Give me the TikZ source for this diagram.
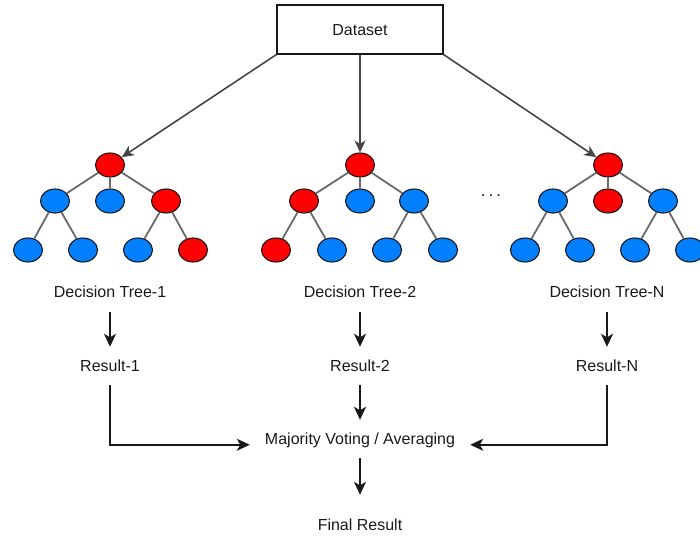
\documentclass[tikz,border=0pt]{standalone}
\usepackage{fontspec}
\setmainfont{Liberation Sans}
\usetikzlibrary{shapes.geometric,arrows.meta}

\definecolor{nodered}{RGB}{255,0,0}
\definecolor{nodeblue}{RGB}{0,127,255}
\definecolor{edgegray}{RGB}{105,105,105}
\definecolor{inkdark}{RGB}{25,25,25}
\definecolor{feedgray}{RGB}{70,70,70}

\tikzset{
  tnode/.style={ellipse, draw=inkdark, line width=1.1pt, minimum width=29pt, minimum height=24pt, inner sep=0pt},
  rn/.style={tnode, fill=nodered},
  bn/.style={tnode, fill=nodeblue},
  tedge/.style={draw=edgegray, line width=1.8pt},
  lbl/.style={font=\fontsize{16}{19}\selectfont, text=inkdark, text height=11.5pt, text depth=0pt, inner sep=0pt, minimum height=38pt},
  arr/.style={draw=inkdark, line width=1.7pt, -{Stealth[length=13pt,width=12pt,inset=3.5pt]}},
  feed/.style={draw=feedgray, line width=1.6pt, -{Stealth[length=12pt,width=11pt,inset=3.5pt]}},
}

% edges of one tree: root to its three children, outer children to their leaves
\newcommand\treeedges[1]{%
  \draw[tedge] (#1r) -- (#1a);
  \draw[tedge] (#1r) -- (#1b);
  \draw[tedge] (#1r) -- (#1c);
  \draw[tedge] (#1a) -- (#1aa);
  \draw[tedge] (#1a) -- (#1ab);
  \draw[tedge] (#1c) -- (#1ca);
  \draw[tedge] (#1c) -- (#1cb);
}

\begin{document}
\begin{tikzpicture}[x=1pt, y=-1pt]
\useasboundingbox (0,0) rectangle (700,535);

% source box
\node[draw=inkdark, line width=1.1pt, minimum width=166pt, minimum height=49pt, inner sep=0pt,
      font=\fontsize{16}{19}\selectfont, text=inkdark, text height=11.5pt, text depth=0pt]
      (ds) at (360,29.5) {Dataset};

% tree 1
\begin{scope}[shift={(110,165)}]
  \node[rn] (t1r)  at (0,0) {};
  \node[bn] (t1a)  at (-55,36) {};
  \node[bn] (t1b)  at (0,36) {};
  \node[rn] (t1c)  at (56,36) {};
  \node[bn] (t1aa) at (-82,85) {};
  \node[bn] (t1ab) at (-27,85) {};
  \node[bn] (t1ca) at (28,85) {};
  \node[rn] (t1cb) at (83,85) {};
\end{scope}
\treeedges{t1}

% tree 2
\begin{scope}[shift={(360,165)}]
  \node[rn] (t2r)  at (0,0) {};
  \node[rn] (t2a)  at (-56,36) {};
  \node[bn] (t2b)  at (0,36) {};
  \node[bn] (t2c)  at (54,36) {};
  \node[rn] (t2aa) at (-84,85) {};
  \node[bn] (t2ab) at (-28,85) {};
  \node[bn] (t2ca) at (27,85) {};
  \node[bn] (t2cb) at (83,85) {};
\end{scope}
\treeedges{t2}

% tree N
\begin{scope}[shift={(608,165)}]
  \node[rn] (t3r)  at (0,0) {};
  \node[bn] (t3a)  at (-55,36) {};
  \node[rn] (t3b)  at (0,36) {};
  \node[bn] (t3c)  at (55,36) {};
  \node[bn] (t3aa) at (-83,85) {};
  \node[bn] (t3ab) at (-28,85) {};
  \node[bn] (t3ca) at (27,85) {};
  \node[bn] (t3cb) at (82,85) {};
\end{scope}
\treeedges{t3}

% ellipsis between the trees
\node[font=\fontsize{17}{19}\selectfont, text=inkdark, text height=11.5pt, text depth=0pt, inner sep=0pt]
  (dots) at (491,191) {.\hspace{3pt}.\hspace{3pt}.};

% data fed to every tree
\draw[feed] (ds.south west) -- (t1r);
\draw[feed] (ds.south) -- (t2r);
\draw[feed] (ds.south east) -- (t3r);

% tree captions and results
\node[lbl, minimum height=40pt] (dt1) at (110,292) {Decision Tree-1};
\node[lbl, minimum height=40pt] (dt2) at (360,292) {Decision Tree-2};
\node[lbl, minimum height=40pt] (dt3) at (607,292) {Decision Tree-N};

\node[lbl] (r1) at (110,366) {Result-1};
\node[lbl] (r2) at (360,366) {Result-2};
\node[lbl] (r3) at (607,366) {Result-N};

\node[lbl, inner xsep=15pt] (mv) at (360,439) {Majority Voting / Averaging};
\node[lbl] (fin) at (360,525) {Final Result};

\draw[arr] (dt1) -- (r1);
\draw[arr] (dt2) -- (r2);
\draw[arr] (dt3) -- (r3);

\draw[arr] (r1.south) |- (mv.base west);
\draw[arr] (r3.south) |- (mv.base east);
\draw[arr] (r2) -- (mv);
\draw[arr, shorten >=11pt] (mv) -- (fin);
\end{tikzpicture}
\end{document}
